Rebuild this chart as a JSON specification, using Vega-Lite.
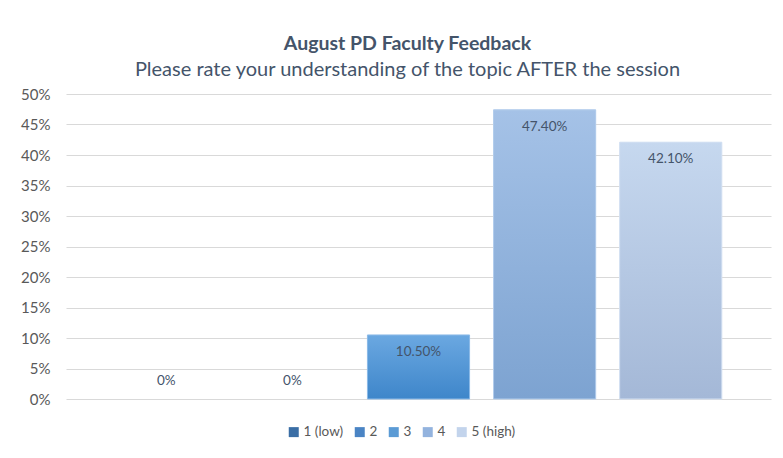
{
  "$schema": "https://vega.github.io/schema/vega-lite/v6.json",
  "width": 705,
  "height": 305,
  "autosize": {"type": "none"},
  "padding": {"left": 66, "top": 94, "right": 12, "bottom": 59},
  "background": "white",
  "config": {"view": {"stroke": null}, "font": "Lato"},
  "title": {
    "text": "August PD Faculty Feedback",
    "subtitle": "Please rate your understanding of the topic AFTER the session",
    "fontSize": 19.5,
    "fontWeight": "bold",
    "subtitleFontSize": 20,
    "color": "#44546A",
    "subtitleColor": "#44546A",
    "font": "Lato",
    "subtitleFont": "Lato",
    "anchor": "middle",
    "dx": -11,
    "offset": 6,
    "subtitlePadding": 6
  },
  "data": {
    "values": [
      {"rating": "1 (low)", "share": 0, "label": "0%"},
      {"rating": "2", "share": 0, "label": "0%"},
      {"rating": "3", "share": 0.105, "label": "10.50%"},
      {"rating": "4", "share": 0.474, "label": "47.40%"},
      {"rating": "5 (high)", "share": 0.421, "label": "42.10%"}
    ]
  },
  "encoding": {
    "x": {
      "field": "rating",
      "type": "nominal",
      "sort": ["1 (low)", "2", "3", "4", "5 (high)"],
      "scale": {"paddingInner": 0.19, "paddingOuter": 0.39},
      "axis": null
    },
    "y": {
      "field": "share",
      "type": "quantitative",
      "scale": {"domain": [0, 0.5]},
      "axis": {
        "title": null,
        "values": [0, 0.05, 0.1, 0.15, 0.2, 0.25, 0.3, 0.35, 0.4, 0.45, 0.5],
        "format": ".0%",
        "grid": true,
        "gridColor": "#D9D9D9",
        "gridWidth": 1,
        "domain": false,
        "ticks": false,
        "labelPadding": 16,
        "labelFontSize": 15,
        "labelColor": "#595959",
        "labelFont": "Lato"
      }
    }
  },
  "layer": [
    {
      "mark": {"type": "bar"},
      "encoding": {
        "color": {
          "field": "rating",
          "type": "nominal",
          "sort": ["1 (low)", "2", "3", "4", "5 (high)"],
          "scale": {
            "domain": ["1 (low)", "2", "3", "4", "5 (high)"],
            "range": ["#3A6EA5", "#4A84C4", "#5B9BD5", "#93B3DE", "#C3D4EC"]
          },
          "legend": {
            "title": null,
            "orient": "none",
            "direction": "horizontal",
            "legendX": 221,
            "legendY": 331,
            "symbolType": "square",
            "symbolSize": 100,
            "symbolStrokeWidth": 0,
            "labelFontSize": 13.5,
            "labelColor": "#595959",
            "labelFont": "Lato",
            "columnPadding": 9,
            "labelOffset": 3
          }
        }
      }
    },
    {
      "transform": [{"filter": "datum.rating == '3'"}],
      "mark": {
        "type": "bar",
        "color": {"gradient": "linear", "x1": 0, "y1": 0, "x2": 0, "y2": 1,
          "stops": [{"offset": 0, "color": "#6BA8E1"}, {"offset": 1, "color": "#3E86CA"}]},
        "stroke": "#8DBBE8",
        "strokeWidth": 1
      }
    },
    {
      "transform": [{"filter": "datum.rating == '4'"}],
      "mark": {
        "type": "bar",
        "color": {"gradient": "linear", "x1": 0, "y1": 0, "x2": 0, "y2": 1,
          "stops": [{"offset": 0, "color": "#A5C2E7"}, {"offset": 1, "color": "#7DA3D1"}]},
        "stroke": "#B3CDEC",
        "strokeWidth": 1
      }
    },
    {
      "transform": [{"filter": "datum.rating == '5 (high)'"}],
      "mark": {
        "type": "bar",
        "color": {"gradient": "linear", "x1": 0, "y1": 0, "x2": 0, "y2": 1,
          "stops": [{"offset": 0, "color": "#C6D8EF"}, {"offset": 1, "color": "#A4B8D7"}]},
        "stroke": "#D3E0F2",
        "strokeWidth": 1
      }
    },
    {
      "transform": [{"filter": "datum.share > 0"}],
      "mark": {"type": "text", "dy": 17, "baseline": "middle", "fontSize": 13.5, "color": "#44546A", "font": "Lato"},
      "encoding": {"text": {"field": "label"}}
    },
    {
      "transform": [{"filter": "datum.share == 0"}],
      "mark": {"type": "text", "dy": -18, "baseline": "middle", "fontSize": 13.5, "color": "#44546A", "font": "Lato"},
      "encoding": {"text": {"field": "label"}}
    }
  ]
}
